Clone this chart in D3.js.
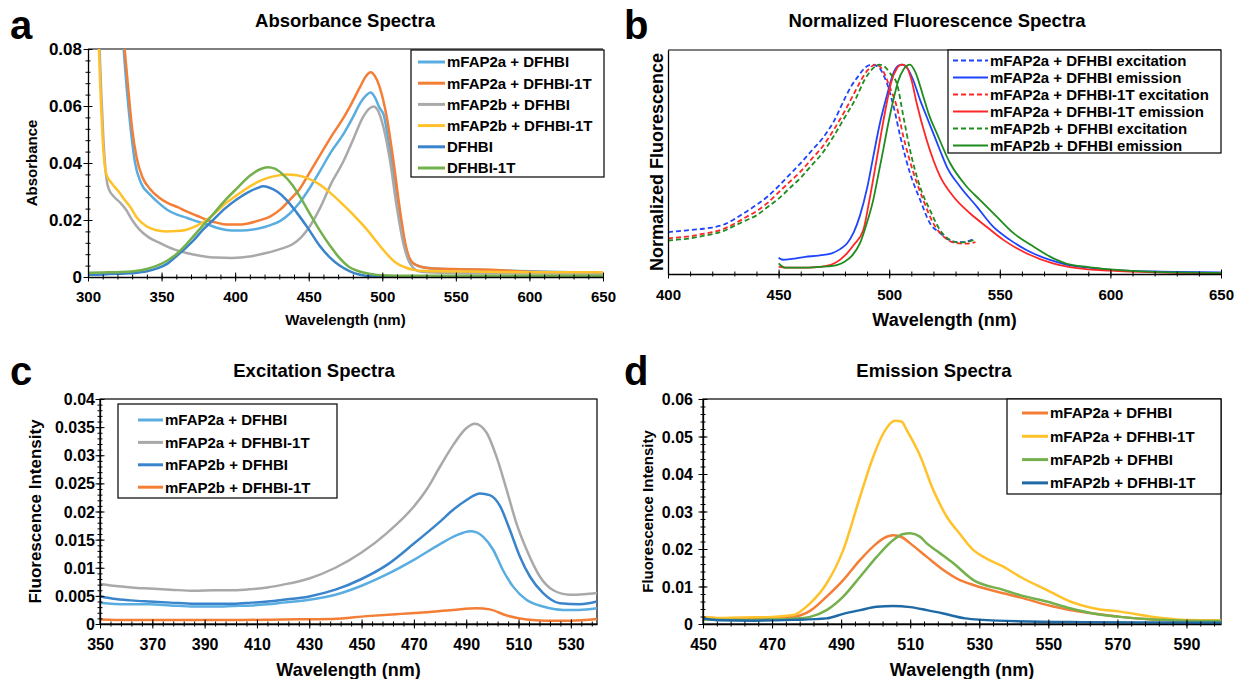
<!DOCTYPE html>
<html>
<head>
<meta charset="utf-8">
<script src="https://cdn.jsdelivr.net/npm/d3@7"></script>
<style>
  body { margin: 0; background: #fff; }
  svg text { font-family: 'Liberation Sans', Arial, sans-serif; font-weight: bold; fill: #000; }
</style>
</head>
<body>
<script>
// ---------- panel a: absorbance ----------
const absTicksX = [300, 350, 400, 450, 500, 550, 600, 650];
const absTicksY = [0, 0.02, 0.04, 0.06, 0.08];
const absLabels = ['mFAP2a + DFHBI', 'mFAP2a + DFHBI-1T', 'mFAP2b + DFHBI', 'mFAP2b + DFHBI-1T', 'DFHBI', 'DFHBI-1T'];

const absMfap2aDfhbi = [[323.5,0.085],[326,0.068],[329,0.052],[332,0.040],[336,0.033],[342,0.029],[348,0.026],[354,0.0235],[361,0.0218],[367,0.0208],[374,0.0195],[381,0.0185],[388,0.0172],[394,0.0165],[401,0.0163],[408,0.0164],[416,0.0170],[424,0.0182],[431,0.0198],[437,0.0222],[444,0.0262],[451,0.0315],[458,0.0375],[465,0.0437],[474,0.0505],[480,0.0560],[485,0.0610],[489,0.0637],[492,0.0647],[495,0.0630],[498,0.0595],[501,0.0568],[505,0.0450],[508,0.0350],[510,0.0290],[514,0.0150],[517,0.0085],[520,0.0052],[526,0.0036],[535,0.0030],[560,0.0026],[600,0.0020],[650,0.0014]];
const absMfap2aDfhbi1t = [[324,0.085],[327,0.068],[330,0.052],[333,0.042],[337,0.035],[342,0.031],[348,0.028],[354,0.026],[361,0.0245],[367,0.023],[374,0.0215],[381,0.020],[388,0.019],[394,0.0184],[401,0.0184],[408,0.0187],[416,0.0198],[424,0.0213],[431,0.0238],[437,0.027],[444,0.031],[451,0.037],[458,0.043],[465,0.049],[474,0.0562],[478,0.0598],[485,0.0668],[489,0.0705],[492,0.0718],[495,0.0705],[498,0.0670],[503,0.0562],[507.5,0.041],[512,0.0235],[516.6,0.0095],[521,0.0048],[527,0.0035],[532,0.0031],[555,0.0027],[580,0.0024],[600,0.0018],[625,0.0016],[650,0.0013]];
const absMfap2bDfhbi = [[307.5,0.085],[309,0.065],[310.5,0.048],[312,0.037],[314,0.031],[318,0.028],[322,0.026],[326,0.0235],[330,0.020],[335,0.0166],[341,0.0140],[349,0.0119],[358,0.0098],[367,0.0084],[377,0.0074],[387,0.0068],[398,0.0067],[410,0.0072],[421,0.0084],[430,0.0097],[439,0.0115],[445,0.0140],[451,0.0180],[458,0.0245],[465,0.0325],[473.5,0.0405],[480,0.048],[487,0.0562],[491,0.0590],[494,0.0598],[497,0.0585],[500.7,0.0527],[505.2,0.041],[509.8,0.0247],[514.3,0.0118],[518.8,0.0048],[525.6,0.0019],[540,0.0015],[580,0.0013],[620,0.0012],[650,0.0012]];
const absMfap2bDfhbi1t = [[307,0.085],[308.5,0.065],[310,0.048],[312.5,0.036],[316,0.033],[321.6,0.0295],[325,0.027],[328.4,0.0248],[333,0.021],[339.7,0.0178],[346,0.0165],[353,0.016],[360,0.0161],[367,0.0166],[374,0.0180],[380.6,0.0200],[387,0.0228],[394,0.0260],[402,0.029],[410,0.0318],[418,0.0340],[426,0.0353],[435,0.0360],[442,0.0357],[449,0.0347],[457,0.0326],[464.5,0.0296],[473.5,0.0253],[480,0.0220],[486,0.0187],[491.7,0.0153],[496,0.0125],[500.7,0.0095],[505,0.0070],[509.8,0.0048],[515,0.0035],[521,0.0025],[530,0.0021],[560,0.0019],[600,0.0017],[650,0.0017]];
const absDfhbi = [[300,0.0008],[310,0.0009],[320,0.0011],[331,0.0014],[340,0.0020],[347,0.0030],[354,0.0047],[360,0.0073],[366,0.0100],[372,0.0130],[378,0.0165],[385,0.0200],[393,0.0240],[401,0.0272],[409,0.0298],[415,0.0312],[419,0.0318],[423,0.0314],[429,0.0298],[435,0.0270],[442,0.0225],[449,0.0175],[457.7,0.0108],[464.5,0.0068],[471,0.0040],[478,0.0020],[485,0.0008],[495,0.0002],[510,0.0001],[570,0.0001],[650,0.0001]];
const absDfhbi1t = [[300,0.0015],[310,0.0016],[320,0.0017],[331,0.0020],[340,0.0028],[347,0.0040],[354,0.0058],[360,0.0080],[366,0.0110],[372,0.0145],[378,0.0180],[385,0.0220],[393,0.0268],[401,0.0310],[410,0.0355],[417,0.0378],[422,0.0385],[427,0.0380],[432,0.0362],[439,0.0322],[444,0.0282],[451,0.0220],[457.7,0.0162],[464.5,0.0110],[471,0.0066],[477,0.0037],[483,0.0022],[492,0.0011],[500,0.0006],[520,0.0004],[560,0.0004],[650,0.0004]];

// ---------- panel b: normalized fluorescence ----------
const normTicksX = [400, 450, 500, 550, 600, 650];
const normLabels = ['mFAP2a + DFHBI excitation', 'mFAP2a + DFHBI emission', 'mFAP2a + DFHBI-1T excitation', 'mFAP2a + DFHBI-1T emission', 'mFAP2b + DFHBI excitation', 'mFAP2b + DFHBI emission'];

const normExc2aDfhbi = [[400,0.20],[405,0.205],[410,0.21],[415,0.215],[420,0.222],[425,0.235],[430,0.262],[435,0.295],[440,0.33],[445,0.37],[450,0.42],[455,0.475],[460,0.53],[465,0.59],[470,0.65],[475,0.73],[480,0.84],[483,0.9],[486,0.945],[489,0.985],[492,1.0],[495,0.99],[497,0.96],[499,0.91],[502,0.8],[505,0.657],[509.4,0.482],[514,0.354],[518.4,0.243],[523,0.196],[529,0.155],[533.5,0.152],[538.8,0.171]];
const normEm2aDfhbi = [[450,0.078],[452,0.068],[456,0.072],[462,0.082],[468,0.088],[474,0.099],[478,0.12],[481,0.147],[484,0.2],[486.8,0.28],[490,0.41],[492.8,0.561],[495.8,0.72],[498.9,0.85],[501.9,0.96],[504,0.995],[506,1.0],[508,0.985],[510.8,0.928],[513.9,0.833],[517,0.75],[519.9,0.673],[523,0.59],[526,0.513],[532,0.418],[539.6,0.322],[547,0.226],[554.6,0.163],[562,0.115],[572.7,0.067],[580,0.045],[590,0.03],[600,0.02],[620,0.012],[650,0.008]];
const normExc2aDfhbi1t = [[400,0.17],[405,0.175],[410,0.18],[415,0.19],[420,0.20],[425,0.215],[430,0.24],[435,0.27],[440,0.30],[445,0.34],[450,0.39],[455,0.44],[460,0.49],[465,0.55],[470,0.61],[475,0.69],[480,0.78],[484,0.86],[487,0.92],[490,0.97],[494,1.0],[497,0.975],[500,0.9],[503.4,0.8],[506.4,0.657],[511,0.482],[515.4,0.354],[519.9,0.243],[524.5,0.18],[530.5,0.147],[535,0.145],[539,0.152]];
const normEm2aDfhbi1t = [[450,0.035],[453,0.03],[460,0.03],[466,0.032],[471,0.038],[475,0.05],[478,0.07],[481,0.1],[484,0.14],[488.3,0.21],[491,0.35],[494.3,0.545],[496.5,0.68],[498.9,0.817],[501,0.92],[503.4,0.98],[505.5,1.0],[507.5,0.995],[510,0.93],[512.4,0.817],[516.9,0.641],[523,0.466],[529,0.37],[536.5,0.29],[544,0.226],[551.6,0.163],[562,0.099],[574,0.051],[585,0.028],[600,0.016],[620,0.008],[650,0.004]];
const normExc2bDfhbi = [[400,0.16],[405,0.165],[410,0.17],[415,0.18],[420,0.19],[425,0.205],[430,0.23],[435,0.255],[440,0.28],[445,0.32],[450,0.36],[455,0.41],[460,0.46],[465,0.52],[470,0.58],[475,0.66],[480,0.75],[485,0.84],[489,0.93],[492,0.975],[495.5,1.0],[498.5,0.985],[501,0.95],[503.4,0.912],[506.4,0.753],[509.4,0.593],[513.9,0.418],[518.4,0.306],[523,0.21],[527.5,0.163],[532,0.15],[536,0.155],[539,0.165]];
const normEm2bDfhbi = [[450,0.051],[453,0.03],[460,0.03],[467,0.033],[472,0.036],[477,0.045],[480,0.06],[483,0.085],[486.8,0.147],[489.8,0.24],[492.8,0.354],[495,0.47],[497.3,0.593],[499.6,0.72],[501.9,0.832],[504,0.92],[506.4,0.976],[509.4,1.0],[512,0.96],[515.4,0.848],[518,0.76],[521.5,0.673],[527.5,0.53],[535,0.418],[541,0.354],[548.6,0.274],[556.2,0.195],[565.2,0.131],[574,0.076],[580,0.05],[590,0.033],[600,0.022],[620,0.01],[650,0.005]];

// ---------- panel c: excitation ----------
const excTicksX = [350, 370, 390, 410, 430, 450, 470, 490, 510, 530];
const excTicksY = [0, 0.005, 0.01, 0.015, 0.02, 0.025, 0.03, 0.035, 0.04];
const excLabels = ['mFAP2a + DFHBI', 'mFAP2a + DFHBI-1T', 'mFAP2b + DFHBI', 'mFAP2b + DFHBI-1T'];

const exc2aDfhbi = [[350,0.0038],[360,0.0035],[369,0.0035],[377,0.0033],[386,0.0031],[394,0.0031],[401,0.0032],[408,0.0033],[414,0.0035],[420,0.0038],[430,0.0043],[440,0.0052],[450,0.0068],[460,0.0089],[470,0.0114],[480,0.0142],[486,0.0157],[491.5,0.0165],[494,0.0163],[496.5,0.0155],[500.3,0.0132],[504,0.0096],[508,0.0066],[513,0.0043],[519.4,0.0031],[527,0.0025],[533,0.0025],[540,0.0028]];
const exc2aDfhbi1t = [[350,0.0071],[355,0.0068],[362,0.0065],[369,0.0063],[377,0.0061],[386,0.0059],[394,0.0060],[401,0.0060],[408,0.0062],[414,0.0065],[420,0.0070],[430,0.0081],[440,0.0100],[450,0.0127],[460,0.0163],[470,0.0209],[475,0.0240],[480,0.0280],[485,0.0318],[490,0.0348],[493.3,0.0356],[497.8,0.0340],[501.6,0.0297],[505.5,0.0238],[509.2,0.0179],[513.1,0.0132],[518.2,0.0084],[523.3,0.0060],[529.7,0.0052],[535,0.0053],[540,0.0055]];
const exc2bDfhbi = [[350,0.0049],[355,0.0045],[362,0.0042],[369,0.0040],[377,0.0038],[386,0.0036],[394,0.0036],[401,0.0036],[408,0.0038],[414,0.0040],[420,0.0043],[430,0.0049],[440,0.0061],[450,0.0080],[460,0.0106],[470,0.0143],[480,0.0182],[485,0.0203],[490,0.0220],[495.3,0.0232],[499,0.0229],[503,0.0209],[506.7,0.0167],[510.5,0.0120],[514.4,0.0084],[519.4,0.0055],[525.8,0.0037],[533.5,0.0035],[540,0.0040]];
const exc2bDfhbi1t = [[350,0.0008],[360,0.0007],[380,0.0007],[400,0.0007],[420,0.0008],[439,0.0009],[452,0.0014],[465,0.0018],[472,0.0020],[485,0.0025],[494,0.0028],[499,0.0026],[505.5,0.0015],[513,0.0008],[520,0.0006],[530,0.0006],[540,0.0009]];

// ---------- panel d: emission ----------
const emTicksX = [450, 470, 490, 510, 530, 550, 570, 590];
const emTicksY = [0, 0.01, 0.02, 0.03, 0.04, 0.05, 0.06];
const emLabels = ['mFAP2a + DFHBI', 'mFAP2a + DFHBI-1T', 'mFAP2b + DFHBI', 'mFAP2b + DFHBI-1T'];

const em2aDfhbi = [[450,0.0018],[455,0.0015],[460,0.0016],[465,0.0016],[470,0.0017],[476,0.0019],[481,0.0035],[485.8,0.0073],[490.6,0.0117],[495.5,0.0171],[500.3,0.0215],[503,0.0232],[505.1,0.0237],[507.5,0.0232],[510,0.0215],[514.8,0.0179],[519.6,0.0144],[524.4,0.0117],[528.3,0.0104],[537,0.0082],[541.8,0.0071],[549.5,0.0051],[556.3,0.0037],[563,0.0028],[570.8,0.0019],[580.4,0.0012],[590,0.0009],[600,0.0008]];
const em2aDfhbi1t = [[450,0.0018],[455,0.0016],[460,0.0017],[465,0.0018],[470,0.0019],[476.2,0.0024],[481,0.0055],[485.8,0.0108],[490.6,0.0197],[495.5,0.034],[499.3,0.0446],[502.2,0.0508],[505.6,0.0542],[507.5,0.054],[509,0.0517],[512.8,0.0450],[516.7,0.0357],[520.6,0.0286],[524.4,0.0240],[528.3,0.0197],[532,0.0175],[537,0.0153],[541.8,0.0126],[549.5,0.0091],[556.3,0.0060],[563,0.0042],[570.8,0.0033],[580.4,0.0019],[590,0.0011],[600,0.0010]];
const em2bDfhbi = [[450,0.0012],[460,0.0011],[470,0.0012],[476,0.0014],[481,0.0019],[485.8,0.0037],[490.6,0.0073],[495.5,0.0126],[500.3,0.0179],[505.1,0.0224],[508,0.0240],[510,0.0242],[512.8,0.0233],[514.8,0.0215],[518.6,0.0189],[522.5,0.0162],[528.3,0.0117],[537,0.0091],[541.8,0.0077],[549.5,0.0060],[556.3,0.0042],[563,0.0028],[570.8,0.0019],[580.4,0.0012],[590,0.0009],[600,0.0008]];
const em2bDfhbi1t = [[450,0.0015],[455,0.0010],[465,0.0009],[476,0.0011],[485.8,0.0015],[490.6,0.0027],[495.5,0.0037],[500.3,0.0046],[505.1,0.0048],[510,0.0045],[514.8,0.0037],[519.6,0.0028],[526,0.0015],[535,0.0009],[560,0.0005],[600,0.0003]];

const C = {
  lightBlue: '#5aade0', orange: '#f47e35', gray: '#a9a9a9', yellow: '#ffc22b',
  blue: '#3a84cc', green: '#74b04c', teal: '#1f6aa5',
  nBlue: '#1f45fc', nRed: '#ff2626', nGreen: '#1e8c1e'
};

const svg = d3.select('body').append('svg')
  .attr('width', 1236)
  .attr('height', 679);

const fmt = v => String(+v.toFixed(4));

function drawPanel(p) {
  const x = d3.scaleLinear().domain(p.xDomain).range([p.left, p.right]);
  const y = d3.scaleLinear().domain(p.yDomain).range([p.bottom, p.top]);
  const g = svg.append('g');

  g.append('clipPath').attr('id', 'clip-' + p.letter)
    .append('rect')
    .attr('x', p.left).attr('y', p.top)
    .attr('width', p.right - p.left).attr('height', p.bottom - p.top);

  // frame
  if (p.fullBox) {
    g.append('rect')
      .attr('x', p.left).attr('y', p.top)
      .attr('width', p.right - p.left).attr('height', p.bottom - p.top)
      .attr('fill', 'none').attr('stroke', '#000').attr('stroke-width', 1.2);
  } else {
    g.append('line')
      .attr('x1', p.left).attr('x2', p.right)
      .attr('y1', p.top).attr('y2', p.top)
      .attr('stroke', '#000').attr('stroke-width', 1.2);
  }

  // series
  const line = d3.line()
    .x(d => x(d[0]))
    .y(d => y(d[1]))
    .curve(d3.curveMonotoneX);

  g.append('g').attr('clip-path', `url(#clip-${p.letter})`)
    .selectAll('path')
    .data(p.series)
    .enter()
    .append('path')
    .attr('d', d => line(d.data))
    .attr('fill', 'none')
    .attr('stroke', d => d.color)
    .attr('stroke-width', p.lineWidth)
    .attr('stroke-dasharray', d => d.dash || null)
    .attr('stroke-linejoin', 'round');

  // ticks (crossing the axis)
  const xMinor = d3.range(p.xDomain[0], p.xDomain[1] + 1e-9, p.xMinor);
  const crossTicks = (axisFn, scale, values, size, transform) => {
    g.append('g').attr('transform', transform)
      .call(axisFn(scale).tickValues(values).tickSize(size).tickSizeOuter(0).tickFormat(''))
      .call(a => a.select('.domain').remove());
  };
  [-1, 1].forEach(s => {
    crossTicks(d3.axisBottom, x, xMinor, 2.5 * s, `translate(0,${p.bottom})`);
    crossTicks(d3.axisBottom, x, p.xTicks, 4.5 * s, `translate(0,${p.bottom})`);
  });

  const xAxis = g.append('g')
    .attr('transform', `translate(0,${p.bottom})`)
    .call(d3.axisBottom(x).tickValues(p.xTicks).tickSize(0).tickSizeOuter(0).tickFormat(fmt));
  xAxis.select('.domain').attr('stroke', '#000').attr('stroke-width', 1.3);
  xAxis.selectAll('text')
    .attr('y', p.xTickOffset).attr('dy', 0)
    .style('font-size', p.tickFont + 'px');

  const yAxis = g.append('g')
    .attr('transform', `translate(${p.left},0)`)
    .call(d3.axisLeft(y).tickValues(p.yTicks || []).tickSize(0).tickSizeOuter(0).tickFormat(fmt));
  yAxis.select('.domain').attr('stroke', '#000').attr('stroke-width', 1.3);
  yAxis.selectAll('text')
    .attr('x', -p.yTickGap).attr('dy', '0.35em')
    .style('font-size', (p.yTickFont || p.tickFont) + 'px');

  if (p.yTicks) {
    const yMinor = d3.range(p.yDomain[0], p.yDomain[1] + 1e-9, p.yMinor);
    [-1, 1].forEach(s => {
      crossTicks(d3.axisLeft, y, yMinor, 2.5 * s, `translate(${p.left},0)`);
      crossTicks(d3.axisLeft, y, p.yTicks, 4.5 * s, `translate(${p.left},0)`);
    });
  }
  g.selectAll('.tick line').attr('stroke', '#000');

  // titles
  g.append('text')
    .attr('x', p.titleX).attr('y', p.titleY)
    .attr('text-anchor', 'middle')
    .style('font-size', '18.5px')
    .text(p.title);

  g.append('text')
    .attr('x', p.letterX).attr('y', p.letterY)
    .style('font-size', '40px')
    .text(p.letter);

  g.append('text')
    .attr('x', (p.left + p.right) / 2).attr('y', p.xLabelY)
    .attr('text-anchor', 'middle')
    .style('font-size', p.xLabelFont + 'px')
    .text('Wavelength (nm)');

  g.append('text')
    .attr('transform', `translate(${p.yLabelX},${(p.top + p.bottom) / 2}) rotate(-90)`)
    .attr('text-anchor', 'middle')
    .style('font-size', p.yLabelFont + 'px')
    .text(p.yLabel);

  // legend
  const L = p.legend;
  g.append('rect')
    .attr('x', L.x).attr('y', L.y)
    .attr('width', L.w).attr('height', L.h)
    .attr('fill', '#fff').attr('stroke', '#000').attr('stroke-width', 1.2);

  const items = g.selectAll('.legend-item')
    .data(p.series)
    .enter()
    .append('g')
    .attr('class', 'legend-item')
    .attr('transform', (d, i) => `translate(0,${L.row0 + i * L.step})`);

  items.append('line')
    .attr('x1', L.lx1).attr('x2', L.lx2)
    .attr('stroke', d => d.color)
    .attr('stroke-width', L.sw)
    .attr('stroke-dasharray', d => d.dash || null);

  items.append('text')
    .attr('x', L.lx2 + 2)
    .attr('dy', '0.36em')
    .style('font-size', L.font + 'px')
    .text(d => d.name);
}

drawPanel({
  letter: 'a', title: 'Absorbance Spectra', titleX: 345, titleY: 27, letterX: 10, letterY: 39,
  left: 88, right: 603, top: 49, bottom: 277, fullBox: false,
  xDomain: [300, 650], yDomain: [0, 0.08], xTicks: absTicksX, yTicks: absTicksY, xMinor: 10, yMinor: 0.004,
  tickFont: 15, yTickFont: 17, xTickOffset: 25, yTickGap: 6, lineWidth: 2.5,
  xLabelY: 325, xLabelFont: 15, yLabel: 'Absorbance', yLabelX: 37, yLabelFont: 15,
  series: [
    { name: absLabels[0], data: absMfap2aDfhbi, color: C.lightBlue },
    { name: absLabels[1], data: absMfap2aDfhbi1t, color: C.orange },
    { name: absLabels[2], data: absMfap2bDfhbi, color: C.gray },
    { name: absLabels[3], data: absMfap2bDfhbi1t, color: C.yellow },
    { name: absLabels[4], data: absDfhbi, color: C.blue },
    { name: absLabels[5], data: absDfhbi1t, color: C.green }
  ],
  legend: { x: 411, y: 50, w: 193, h: 127, row0: 62, step: 21.2, lx1: 418, lx2: 445, sw: 3, font: 15 }
});

drawPanel({
  letter: 'b', title: 'Normalized Fluorescence Spectra', titleX: 937, titleY: 27, letterX: 624, letterY: 39,
  left: 668, right: 1221, top: 50, bottom: 274, fullBox: false,
  xDomain: [400, 650], yDomain: [0, 1.07], xTicks: normTicksX, yTicks: null, xMinor: 10,
  tickFont: 15, xTickOffset: 26, yTickGap: 6, lineWidth: 1.8,
  xLabelY: 326, xLabelFont: 18, yLabel: 'Normalized Fluorescence', yLabelX: 663, yLabelFont: 18,
  series: [
    { name: normLabels[0], data: normExc2aDfhbi, color: C.nBlue, dash: '5,3' },
    { name: normLabels[1], data: normEm2aDfhbi, color: C.nBlue },
    { name: normLabels[2], data: normExc2aDfhbi1t, color: C.nRed, dash: '5,3' },
    { name: normLabels[3], data: normEm2aDfhbi1t, color: C.nRed },
    { name: normLabels[4], data: normExc2bDfhbi, color: C.nGreen, dash: '5,3' },
    { name: normLabels[5], data: normEm2bDfhbi, color: C.nGreen }
  ],
  legend: { x: 948, y: 50, w: 273, h: 103, row0: 60.5, step: 17, lx1: 953, lx2: 988, sw: 1.8, font: 15 }
});

drawPanel({
  letter: 'c', title: 'Excitation Spectra', titleX: 314, titleY: 377, letterX: 10, letterY: 385,
  left: 100, right: 597, top: 399, bottom: 624, fullBox: true,
  xDomain: [350, 540], yDomain: [0, 0.04], xTicks: excTicksX, yTicks: excTicksY, xMinor: 4, yMinor: 0.001,
  tickFont: 16, xTickOffset: 26, yTickGap: 5, lineWidth: 2.5,
  xLabelY: 676, xLabelFont: 18, yLabel: 'Fluorescence Intensity', yLabelX: 41, yLabelFont: 17,
  series: [
    { name: excLabels[0], data: exc2aDfhbi, color: C.lightBlue },
    { name: excLabels[1], data: exc2aDfhbi1t, color: C.gray },
    { name: excLabels[2], data: exc2bDfhbi, color: C.blue },
    { name: excLabels[3], data: exc2bDfhbi1t, color: C.orange }
  ],
  legend: { x: 118, y: 404, w: 219, h: 94, row0: 420, step: 22.4, lx1: 138, lx2: 163, sw: 3, font: 15 }
});

drawPanel({
  letter: 'd', title: 'Emission Spectra', titleX: 934, titleY: 377, letterX: 624, letterY: 385,
  left: 703, right: 1221, top: 399, bottom: 624, fullBox: true,
  xDomain: [450, 600], yDomain: [0, 0.06], xTicks: emTicksX, yTicks: emTicksY, xMinor: 4, yMinor: 0.002,
  tickFont: 16, xTickOffset: 26, yTickGap: 10, lineWidth: 2.5,
  xLabelY: 676, xLabelFont: 18, yLabel: 'Fluorescence Intensity', yLabelX: 653, yLabelFont: 15,
  series: [
    { name: emLabels[0], data: em2aDfhbi, color: C.orange },
    { name: emLabels[1], data: em2aDfhbi1t, color: C.yellow },
    { name: emLabels[2], data: em2bDfhbi, color: C.green },
    { name: emLabels[3], data: em2bDfhbi1t, color: C.teal }
  ],
  legend: { x: 1007, y: 399, w: 214, h: 95, row0: 413, step: 23.3, lx1: 1022, lx2: 1048, sw: 3, font: 15 }
});
</script>
</body>
</html>
